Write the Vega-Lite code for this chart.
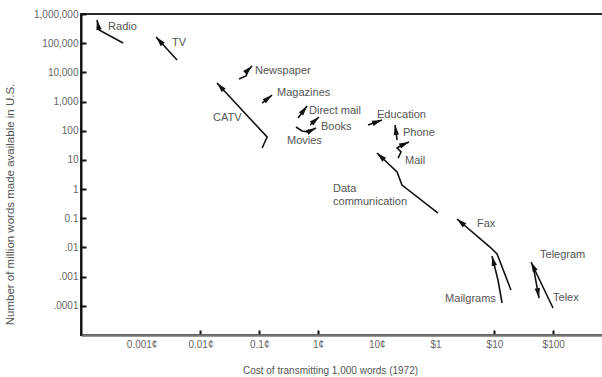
{
  "$schema": "https://vega.github.io/schema/vega-lite/v6.json",
  "width": 522,
  "height": 321,
  "autosize": "none",
  "padding": {"left": 81, "top": 14, "right": 0, "bottom": 42},
  "background": "white",
  "config": {"view": {"stroke": "#2a2a2a", "strokeWidth": 2}, "font": "Liberation Sans"},
  "datasets": {
    "paths": [
      {"series": "Radio", "i": 0, "cost": 4.83e-6, "words": 101000},
      {"series": "Radio", "i": 1, "cost": 1.89e-6, "words": 283000},
      {"series": "Radio", "i": 2, "cost": 1.74e-6, "words": 622000},
      {"series": "TV", "i": 0, "cost": 4.0e-5, "words": 26500},
      {"series": "TV", "i": 1, "cost": 1.76e-5, "words": 163000},
      {"series": "Newspaper", "i": 0, "cost": 4.53e-4, "words": 5920},
      {"series": "Newspaper", "i": 1, "cost": 5.97e-4, "words": 7500},
      {"series": "Newspaper", "i": 2, "cost": 6.46e-4, "words": 12100},
      {"series": "Newspaper", "i": 3, "cost": 7.55e-4, "words": 16500},
      {"series": "CATV", "i": 0, "cost": 1.12e-3, "words": 25.6},
      {"series": "CATV", "i": 1, "cost": 1.36e-3, "words": 60.9},
      {"series": "CATV", "i": 2, "cost": 1.91e-4, "words": 4320},
      {"series": "Magazines", "i": 0, "cost": 1.12e-3, "words": 891},
      {"series": "Magazines", "i": 1, "cost": 1.65e-3, "words": 1670},
      {"series": "Direct mail", "i": 0, "cost": 4.57e-3, "words": 273},
      {"series": "Direct mail", "i": 1, "cost": 6.5e-3, "words": 703},
      {"series": "Books", "i": 0, "cost": 7.31e-3, "words": 157},
      {"series": "Books", "i": 1, "cost": 1.04e-2, "words": 295},
      {"series": "Movies", "i": 0, "cost": 4.22e-3, "words": 134},
      {"series": "Movies", "i": 1, "cost": 5.35e-3, "words": 97.8},
      {"series": "Movies", "i": 2, "cost": 6.76e-3, "words": 90.3},
      {"series": "Movies", "i": 3, "cost": 9.25e-3, "words": 124},
      {"series": "Education", "i": 0, "cost": 0.0708, "words": 157},
      {"series": "Education", "i": 1, "cost": 0.1225, "words": 233},
      {"series": "Phone", "i": 0, "cost": 0.221, "words": 48.1},
      {"series": "Phone", "i": 1, "cost": 0.204, "words": 157},
      {"series": "Mail", "i": 0, "cost": 0.23, "words": 11.6},
      {"series": "Mail", "i": 1, "cost": 0.258, "words": 18.7},
      {"series": "Mail", "i": 2, "cost": 0.221, "words": 25.6},
      {"series": "Mail", "i": 3, "cost": 0.268, "words": 32.4},
      {"series": "Mail", "i": 4, "cost": 0.353, "words": 41.0},
      {"series": "Data communication", "i": 0, "cost": 1.1, "words": 0.151},
      {"series": "Data communication", "i": 1, "cost": 0.268, "words": 1.38},
      {"series": "Data communication", "i": 2, "cost": 0.221, "words": 3.85},
      {"series": "Data communication", "i": 3, "cost": 0.1007, "words": 17.3},
      {"series": "Fax", "i": 0, "cost": 19.1, "words": 3.48e-4},
      {"series": "Fax", "i": 1, "cost": 11.1, "words": 5.96e-3},
      {"series": "Fax", "i": 2, "cost": 8.41, "words": 0.01035},
      {"series": "Fax", "i": 3, "cost": 2.31, "words": 0.0944},
      {"series": "Mailgrams", "i": 0, "cost": 13.5, "words": 1.25e-4},
      {"series": "Mailgrams", "i": 1, "cost": 11.5, "words": 7.66e-4},
      {"series": "Mailgrams", "i": 2, "cost": 9.1, "words": 0.00509},
      {"series": "Telegram", "i": 0, "cost": 99.3, "words": 8.4e-5},
      {"series": "Telegram", "i": 1, "cost": 41.9, "words": 0.00317},
      {"series": "Telex", "i": 0, "cost": 45.3, "words": 0.0025},
      {"series": "Telex", "i": 1, "cost": 57.4, "words": 1.85e-4}
    ],
    "labels": [
      {"label": "Radio", "cost": 2.69e-6, "words": 358000},
      {"label": "TV", "cost": 3.29e-5, "words": 101000},
      {"label": "Newspaper", "cost": 8.49e-4, "words": 11100},
      {"label": "CATV", "cost": 1.64e-4, "words": 273},
      {"label": "Magazines", "cost": 2.01e-3, "words": 1960},
      {"label": "Direct mail", "cost": 7.03e-3, "words": 474},
      {"label": "Books", "cost": 1.12e-2, "words": 134},
      {"label": "Movies", "cost": 2.97e-3, "words": 44.5},
      {"label": "Education", "cost": 0.1007, "words": 346},
      {"label": "Phone", "cost": 0.279, "words": 83.6},
      {"label": "Mail", "cost": 0.302, "words": 9.16},
      {"label": "Data", "cost": 0.018, "words": 1.01},
      {"label": "communication", "cost": 0.018, "words": 0.36},
      {"label": "Fax", "cost": 5.06, "words": 0.0635},
      {"label": "Mailgrams", "cost": 1.45, "words": 1.71e-4},
      {"label": "Telegram", "cost": 59.7, "words": 0.00551},
      {"label": "Telex", "cost": 99.3, "words": 1.85e-4}
    ]
  },
  "layer": [
    {
      "data": {"name": "paths"},
      "mark": {"type": "line", "color": "#111", "strokeWidth": 1.6},
      "encoding": {
        "x": {
          "field": "cost", "type": "quantitative",
          "scale": {"type": "log", "domain": [9.3e-7, 703], "nice": false},
          "axis": {
            "values": [1e-5, 1e-4, 1e-3, 0.01, 0.1, 1, 10, 100],
            "labelExpr": "datum.value < 0.5 ? format(datum.value * 100, '~g') + '¢' : '$' + format(datum.value, '~g')",
            "grid": false,
            "tickSize": -5,
            "tickWidth": 2,
            "tickColor": {"condition": {"test": "datum.value < 0.00002 || (datum.value > 0.05 && datum.value < 5)", "value": "transparent"}, "value": "#111"},
            "domainColor": "#777",
            "domainWidth": 2.5,
            "labelColor": "#666",
            "labelFontSize": 10,
            "labelPadding": 9,
            "labelFlush": false,
            "title": "Cost of transmitting 1,000 words (1972)",
            "titleFontSize": 10,
            "titleFontWeight": "normal",
            "titleColor": "#555",
            "titleX": 249,
            "titleY": 35,
            "titleBaseline": "middle",
            "titleAnchor": null,
            "titleAlign": "center"
          }
        },
        "y": {
          "field": "words", "type": "quantitative",
          "scale": {"type": "log", "domain": [1e-5, 1e6], "nice": false},
          "axis": {
            "values": [1e6, 1e5, 1e4, 1e3, 100, 10, 1, 0.1, 0.01, 0.001, 0.0001],
            "labelExpr": "datum.value >= 1 ? format(datum.value, ',') : (datum.value > 0.05 ? '0.1' : replace(format(datum.value, '~g'), '0.', '.'))",
            "grid": false,
            "tickSize": -5,
            "tickWidth": 2,
            "tickColor": "#111",
            "domainColor": "#111",
            "domainWidth": 2,
            "labelColor": "#666",
            "labelFontSize": 10,
            "labelPadding": 8,
            "labelFlush": false,
            "title": "Number of million words made available in U.S.",
            "titleFontSize": 11.5,
            "titleFontWeight": "normal",
            "titleColor": "#555",
            "titleX": -71,
            "titleY": 190,
            "titleBaseline": "middle",
            "titleAnchor": null,
            "titleAlign": "center"
          }
        },
        "detail": {"field": "series"},
        "order": {"field": "i"}
      }
    },
    {
      "data": {"name": "paths"},
      "transform": [
        {"window": [
          {"op": "lag", "field": "cost", "as": "pc"},
          {"op": "lag", "field": "words", "as": "pw"},
          {"op": "lead", "field": "cost", "as": "nc"}
        ], "groupby": ["series"], "sort": [{"field": "i"}]},
        {"filter": "datum.nc == null"},
        {"calculate": "atan2(log(datum.cost) - log(datum.pc), (29.18 / 58.8) * (log(datum.words) - log(datum.pw))) * 180 / PI", "as": "ang"}
      ],
      "mark": {"type": "point", "shape": "M0,0L0.6,2.2L-0.6,2.2Z", "filled": true, "color": "#111", "size": 81, "opacity": 1},
      "encoding": {
        "x": {"field": "cost", "type": "quantitative"},
        "y": {"field": "words", "type": "quantitative"},
        "angle": {"field": "ang", "type": "quantitative", "scale": null}
      }
    },
    {
      "data": {"name": "labels"},
      "mark": {"type": "text", "align": "left", "baseline": "middle", "fontSize": 11, "color": "#555"},
      "encoding": {
        "x": {"field": "cost", "type": "quantitative"},
        "y": {"field": "words", "type": "quantitative"},
        "text": {"field": "label"}
      }
    }
  ]
}
